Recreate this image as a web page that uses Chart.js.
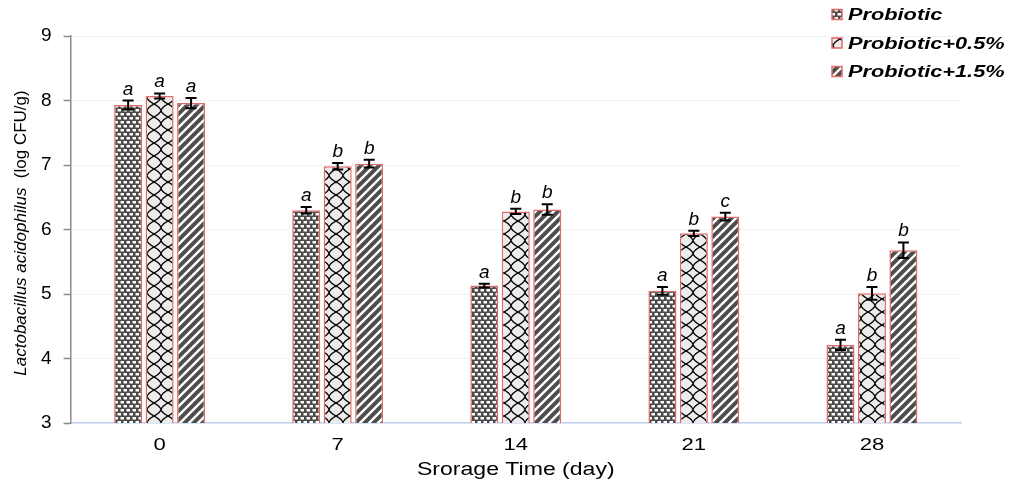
<!DOCTYPE html>
<html>
<head>
<meta charset="utf-8">
<script src="https://cdn.jsdelivr.net/npm/chart.js@4.4.1/dist/chart.umd.min.js"></script>
<style>
  html, body { margin: 0; padding: 0; background: #ffffff; }
  #wrap { width: 1009px; height: 480px; position: relative; }
</style>
</head>
<body>
<div id="wrap"><canvas id="c"></canvas></div>
<script>
// ---- data ----
const categories = ['0', '7', '14', '21', '28'];
const seriesNames = ['Probiotic', 'Probiotic+0.5%', 'Probiotic+1.5%'];
const probiotic = [7.93, 6.30, 5.13, 5.05, 4.21];
const probiotic05 = [8.07, 6.98, 6.28, 5.94, 5.01];
const probiotic15 = [7.96, 7.02, 6.31, 6.20, 5.68];
const errProbiotic = [0.07, 0.05, 0.03, 0.06, 0.08];
const errProbiotic05 = [0.04, 0.05, 0.04, 0.04, 0.10];
const errProbiotic15 = [0.08, 0.06, 0.08, 0.06, 0.12];
const lettersProbiotic = ['a', 'a', 'a', 'a', 'a'];
const lettersProbiotic05 = ['a', 'b', 'b', 'b', 'b'];
const lettersProbiotic15 = ['a', 'b', 'b', 'c', 'b'];
const yTicks = [3, 4, 5, 6, 7, 8, 9];
const xTitle = 'Srorage Time (day)';
const yTitleItalic = 'Lactobacillus acidophilus';
const yTitleNormal = '  (log CFU/g)';

const FONT = '"Liberation Sans", Arial, sans-serif';

// ---- patterns ----
function makeTile(w, h, draw) {
  const t = document.createElement('canvas');
  t.width = w; t.height = h;
  draw(t.getContext('2d'), w, h);
  return t;
}
const ctx0 = document.getElementById('c').getContext('2d');
const tileDots = makeTile(6, 8, (g, w, h) => {
  g.fillStyle = '#4a4a4a'; g.fillRect(0, 0, w, h);
  g.fillStyle = '#ffffff';
  g.fillRect(0.5, 1, 3.5, 2.5);
  g.fillRect(3.5, 5, 2.5, 2.5);
  g.fillRect(0, 5, 1, 2.5);
});
const tileNet = makeTile(14, 13, (g, w, h) => {
  g.fillStyle = '#ececec'; g.fillRect(0, 0, w, h);
  g.strokeStyle = '#000000'; g.lineWidth = 1.2;
  g.beginPath();
  g.moveTo(0, 0); g.quadraticCurveTo(6, 3, 7, 6.5); g.quadraticCurveTo(8, 10, 14, 13);
  g.moveTo(14, 0); g.quadraticCurveTo(8, 3, 7, 6.5); g.quadraticCurveTo(6, 10, 0, 13);
  g.stroke();
});
const tileStripe = makeTile(9, 9, (g, w, h) => {
  g.fillStyle = '#4d4d4d'; g.fillRect(0, 0, w, h);
  g.strokeStyle = '#ffffff'; g.lineWidth = 2.4;
  g.beginPath();
  g.moveTo(-2, 11); g.lineTo(11, -2);
  g.moveTo(-7, 7); g.lineTo(7, -7);
  g.moveTo(2, 16); g.lineTo(16, 2);
  g.stroke();
});
const patDots = ctx0.createPattern(tileDots, 'repeat');
const patNet = ctx0.createPattern(tileNet, 'repeat');
const patStripe = ctx0.createPattern(tileStripe, 'repeat');
const patterns = [patDots, patNet, patStripe];
const errors = [errProbiotic, errProbiotic05, errProbiotic15];
const letters = [lettersProbiotic, lettersProbiotic05, lettersProbiotic15];
const BORDER = '#e06b6b';

// ---- custom drawing plugin ----
const extras = {
  id: 'extras',
  afterDatasetsDraw(chart) {
    const ctx = chart.ctx;
    const ys = chart.scales.y;
    ctx.save();
    chart.data.datasets.forEach((ds, i) => {
      const meta = chart.getDatasetMeta(i);
      meta.data.forEach((bar, j) => {
        const v = ds.data[j], e = errors[i][j];
        const yt = ys.getPixelForValue(v + e);
        const yb = ys.getPixelForValue(v - e);
        const x = bar.x;
        ctx.strokeStyle = '#000000';
        ctx.lineWidth = 2;
        ctx.beginPath();
        ctx.moveTo(x, yt); ctx.lineTo(x, yb);
        ctx.moveTo(x - 5.5, yt); ctx.lineTo(x + 5.5, yt);
        ctx.moveTo(x - 5.5, yb); ctx.lineTo(x + 5.5, yb);
        ctx.stroke();
        ctx.fillStyle = '#000000';
        ctx.font = 'italic 19px ' + FONT;
        ctx.textAlign = 'center';
        ctx.textBaseline = 'alphabetic';
        ctx.fillText(letters[i][j], x, yt - 6);
      });
    });
    ctx.restore();
  },
  afterDraw(chart) {
    const ctx = chart.ctx;
    const xs = chart.scales.x;
    const area = chart.chartArea;
    ctx.save();
    ctx.fillStyle = '#000000';
    ctx.textAlign = 'center';
    ctx.textBaseline = 'alphabetic';
    ctx.font = '17px ' + FONT;
    categories.forEach((c, i) => {
      const x = xs.getPixelForValue(i);
      ctx.save();
      ctx.translate(x, 450);
      ctx.scale(1.3, 1);
      ctx.fillText(c, 0, 0);
      ctx.restore();
    });
    ctx.font = '18px ' + FONT;
    ctx.save();
    ctx.translate((area.left + area.right) / 2, 475);
    ctx.scale(1.28, 1);
    ctx.fillText(xTitle, 0, 0);
    ctx.restore();
    ctx.save();
    ctx.translate(26, 233);
    ctx.rotate(-Math.PI / 2);
    ctx.textAlign = 'left';
    ctx.font = 'italic 17px ' + FONT;
    const w1 = ctx.measureText(yTitleItalic).width;
    ctx.font = '17px ' + FONT;
    const w2 = ctx.measureText(yTitleNormal).width;
    const start = -(w1 + w2) / 2;
    ctx.font = 'italic 17px ' + FONT;
    ctx.fillText(yTitleItalic, start, 0);
    ctx.font = '17px ' + FONT;
    ctx.fillText(yTitleNormal, start + w1, 0);
    ctx.restore();
    const rowY = [14.5, 43, 71.5];
    chart.data.datasets.forEach((ds, i) => {
      const cy = rowY[i];
      ctx.fillStyle = patterns[i];
      ctx.fillRect(832, cy - 5, 10, 10);
      ctx.strokeStyle = BORDER;
      ctx.lineWidth = 1.5;
      ctx.strokeRect(832, cy - 5, 10, 10);
      ctx.fillStyle = '#000000';
      ctx.font = 'bold italic 16px ' + FONT;
      ctx.textAlign = 'left';
      ctx.save();
      ctx.translate(848, cy + 5.5);
      ctx.scale(1.36, 1);
      ctx.fillText(ds.label, 0, 0);
      ctx.restore();
    });
    ctx.restore();
  }
};

new Chart(document.getElementById('c'), {
  type: 'bar',
  data: {
    labels: categories,
    datasets: [
      { label: seriesNames[0], data: probiotic, backgroundColor: patDots, borderColor: BORDER, borderWidth: 1.5 },
      { label: seriesNames[1], data: probiotic05, backgroundColor: patNet, borderColor: BORDER, borderWidth: 1.5 },
      { label: seriesNames[2], data: probiotic15, backgroundColor: patStripe, borderColor: BORDER, borderWidth: 1.5 }
    ]
  },
  options: {
    responsive: true,
    maintainAspectRatio: false,
    animation: false,
    events: [],
    categoryPercentage: 0.53,
    barPercentage: 0.89,
    layout: { padding: { left: 29, right: 48, top: 36, bottom: 57 } },
    plugins: {
      legend: { display: false },
      tooltip: { enabled: false }
    },
    scales: {
      x: {
        grid: { display: false, drawTicks: false },
        border: { display: true, color: '#c3d2ef', width: 1.5 },
        ticks: { display: false }
      },
      y: {
        min: 3, max: 9,
        afterBuildTicks(scale) { scale.ticks = yTicks.map(v => ({ value: v })); },
        grid: {
          color: '#e4e4e4', lineWidth: 1,
          drawTicks: true, tickLength: 7, tickColor: '#8a8a8a', tickWidth: 1.5, tickBorderDash: [1, 0]
        },
        border: { display: true, color: '#8a8a8a', width: 1.5, dash: [2, 2] },
        ticks: {
          color: '#000000', padding: 12,
          font: { family: FONT, size: 19 }
        }
      }
    }
  },
  plugins: [extras]
});
</script>
</body>
</html>
